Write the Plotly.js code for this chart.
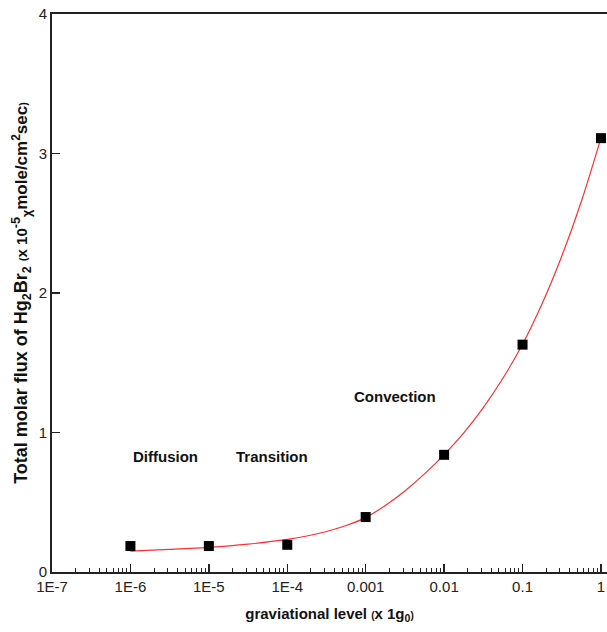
<!DOCTYPE html>
<html>
<head>
<meta charset="utf-8">
<script src="https://cdn.plot.ly/plotly-3.0.1.min.js"></script>
<style>html,body{margin:0;padding:0;background:#fff;}#chart{width:607px;height:632px;}</style>
</head>
<body>
<div id="chart"></div>
<script>
// Measured data points
const gravityLevels = [1e-6, 1e-5, 1e-4, 1e-3, 1e-2, 1e-1, 1];
const molarFlux = [0.186, 0.186, 0.195, 0.394, 0.84, 1.63, 3.11];

// Fitted curve
const fitX = [1e-6, 3.16e-6, 1e-5, 3.16e-5, 1e-4, 1.78e-4, 3.16e-4, 5.62e-4, 1e-3, 1.78e-3, 3.16e-3, 5.62e-3,
              1e-2, 1.78e-2, 3.16e-2, 5.62e-2, 1e-1, 1.78e-1, 3.16e-1, 5.62e-1, 1];
const fitY = [0.150, 0.162, 0.177, 0.200, 0.234, 0.258, 0.290, 0.333, 0.390, 0.477, 0.581, 0.703,
              0.842, 0.998, 1.179, 1.389, 1.632, 1.924, 2.263, 2.656, 3.112];

// Tick labels
const xTickVals = [1e-7, 1e-6, 1e-5, 1e-4, 1e-3, 1e-2, 1e-1, 1];
const xTickText = ["1E-7", "1E-6", "1E-5", "1E-4", "0.001", "0.01", "0.1", "1"];
const yTickVals = [0, 1, 2, 3, 4];

// Region labels
const regionNames = ["Diffusion", "Transition", "Convection"];
const regionX = [-5.55, -4.19, -2.62];
const regionY = [0.83, 0.83, 1.26];

const font = "Liberation Sans, Arial, sans-serif";

const traces = [
  {
    x: fitX, y: fitY, type: "scatter", mode: "lines",
    line: {color: "#ff3030", width: 1.2, shape: "spline", smoothing: 1},
    hoverinfo: "skip"
  },
  {
    x: gravityLevels, y: molarFlux, type: "scatter", mode: "markers",
    marker: {symbol: "square", size: 10, color: "#000"}
  }
];

const layout = {
  width: 607, height: 632,
  margin: {l: 52, r: 0, t: 14, b: 60},
  paper_bgcolor: "#fff", plot_bgcolor: "#fff",
  showlegend: false,
  font: {family: font, size: 15, color: "#222"},
  xaxis: {
    type: "log",
    range: [-7, 0.077],
    tickvals: xTickVals, ticktext: xTickText,
    ticks: "inside", ticklen: 8, tickwidth: 1.5, tickcolor: "#222",
    minor: {ticks: "inside", ticklen: 4, tickwidth: 1, tickcolor: "#222", dtick: "D1", showgrid: false},
    showline: true, linecolor: "#222", linewidth: 2, mirror: true,
    showgrid: false, zeroline: false,
    tickfont: {family: font, size: 15, color: "#222"},
    title: {
      text: "<b>graviational level <span style='font-size:10px'>(</span>x 1g<sub>0</sub><span style='font-size:10px'>)</span></b>",
      font: {family: font, size: 15, color: "#111"}, standoff: 14
    }
  },
  yaxis: {
    range: [0, 4],
    tickvals: yTickVals,
    ticks: "inside", ticklen: 8, tickwidth: 1.5, tickcolor: "#222",
    showline: true, linecolor: "#222", linewidth: 2, mirror: false,
    showgrid: false, zeroline: false,
    tickfont: {family: font, size: 15, color: "#222"},
    title: {
      text: "<b>Total molar flux of Hg<sub>2</sub>Br<sub>2</sub> <span style='font-size:11px'>(</span><span style='font-size:15px'>x 10</span><sup>-5</sup><sub>χ</sub><span style='font-size:17px'>mole/cm<sup>2</sup>sec</span><span style='font-size:11px'>)</span></b>",
      font: {family: font, size: 18, color: "#111"}, standoff: 6
    }
  },
  annotations: regionNames.map((t, i) => ({
    x: regionX[i], y: regionY[i], xref: "x", yref: "y",
    text: "<b>" + t + "</b>", showarrow: false,
    font: {family: font, size: 15, color: "#111"}
  }))
};

Plotly.newPlot("chart", traces, layout, {displayModeBar: false, staticPlot: true});
</script>
</body>
</html>
